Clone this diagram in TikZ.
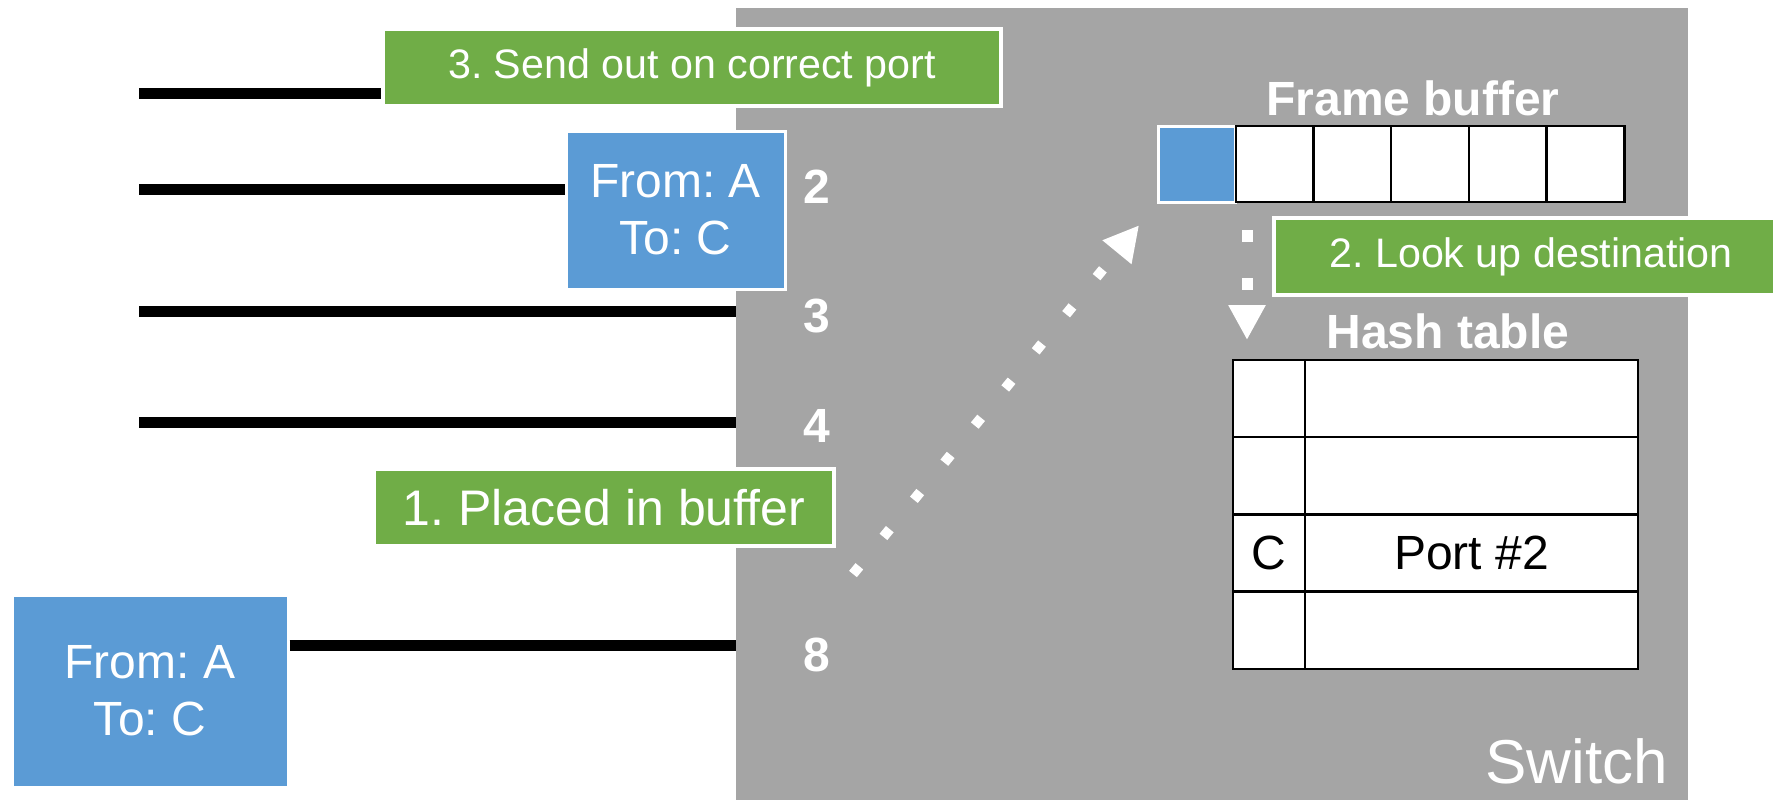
\documentclass[tikz,border=0pt]{standalone}
\usepackage{fontspec}
\setmainfont{Liberation Sans}
\frenchspacing
\usetikzlibrary{positioning,arrows.meta}

\definecolor{switchgray}{HTML}{A5A5A5}
\definecolor{stepgreen}{HTML}{70AD47}
\definecolor{frameblue}{HTML}{5B9BD5}

\begin{document}
\begin{tikzpicture}
		[x=0.5pt,y=-0.5pt,
		wire/.style={line width=5.5pt},
		frame/.style={rectangle,draw=white,fill=frameblue,line width=1.5pt,text=white,align=center,inner sep=0pt,font=\fontsize{24}{28.5}\selectfont},
		note/.style={rectangle,draw=white,fill=stepgreen,line width=2pt,text=white,inner sep=0pt,minimum height=38.5pt},
		cell/.style={rectangle,draw=black,fill=white,line width=1.2pt,inner sep=0pt,outer sep=0pt,minimum width=38.85pt,minimum height=38pt},
		slot/.style={rectangle,draw=black,fill=white,line width=1.2pt,inner sep=0pt,outer sep=0pt,minimum height=38.6pt,font=\fontsize{24}{28}\selectfont},
		portno/.style={anchor=base,text=white,font=\bfseries\fontsize{24}{28}\selectfont},
		title/.style={anchor=base,text=white,font=\bfseries\fontsize{24}{28}\selectfont},
		hop/.style={draw=white,line width=5pt,dash pattern=on 5pt off 19pt,-{Triangle[length=17.5pt,width=17.5pt]}}]
		\useasboundingbox (0,0) rectangle (1773,800);

		\node [rectangle,fill=switchgray,inner sep=0pt,outer sep=0pt,minimum width=476pt,minimum height=396pt] (switch) at (1212,404) {};
		\node [anchor=base east,text=white,font=\fontsize{31}{36}\selectfont] (swname) at (1675,783) {Switch};

		\node [portno] (p2) at (817,203) {2};
		\node [portno] (p3) at (817,332) {3};
		\node [portno] (p4) at (817,442) {4};
		\node [portno] (p8) at (817,671) {8};

		\node [note,minimum width=309pt,font=\fontsize{20.6}{24}\selectfont] (send) at (692,67.5) {3. Send out on correct port};
		\node [note,minimum width=230pt,font=\fontsize{25}{30}\selectfont] (placed) at (604,507.5) {1. Placed in buffer};
		\node [note,minimum width=257pt,font=\fontsize{20.6}{24}\selectfont] (lookup) at (1531,256.5) {2. Look up destination};

		\node [frame,minimum width=109.5pt,minimum height=79pt] (frame2) at (675.5,210) {From: A\\To: C};
		\node [frame,minimum width=138pt,minimum height=96pt] (frame8) at (150,691) {From: A\\To: C};

		% port wires
		\coordinate (w1) at (139,93.5);
		\coordinate (w2) at (139,189);
		\coordinate (w3) at (139,311);
		\coordinate (w4) at (139,422);
		\coordinate (w8) at (732,645);
		\draw [wire] (w1) -- (w1 -| send.west);
		\draw [wire] (w2) -- (w2 -| frame2.west);
		\draw [wire] (w3) -- (w3 -| switch.west);
		\draw [wire] (w4) -- (w4 -| switch.west);
		\draw [wire] (frame8.east |- w8) -- (w8 -| switch.west);

		% frame buffer
		\node [title] (buftitle) at (1413,115) {Frame buffer};
		\node [cell,fill=frameblue,draw=white,line width=1.5pt] (buf1) at (1197,164) {};
		\node [cell] (buf2) [right=0pt of buf1] {};
		\node [cell] (buf3) [right=0pt of buf2] {};
		\node [cell] (buf4) [right=0pt of buf3] {};
		\node [cell] (buf5) [right=0pt of buf4] {};
		\node [cell] (buf6) [right=0pt of buf5] {};

		% hash table
		\node [title] (httitle) at (1448,348) {Hash table};
		\node [slot,minimum width=36pt] (key1) at (1269,398.6) {};
		\node [slot,minimum width=166.5pt] (val1) [right=0pt of key1] {};
		\node [slot,minimum width=36pt] (key2) [below=0pt of key1] {};
		\node [slot,minimum width=166.5pt] (val2) [right=0pt of key2] {};
		\node [slot,minimum width=36pt] (key3) [below=0pt of key2] {C};
		\node [slot,minimum width=166.5pt] (val3) [right=0pt of key3] {Port \#2};
		\node [slot,minimum width=36pt] (key4) [below=0pt of key3] {};
		\node [slot,minimum width=166.5pt] (val4) [right=0pt of key4] {};

		\coordinate (in8) at (853,574);
		\coordinate (look) at (1247,230);
		\draw [hop,shorten >=15pt] (in8) -- (buf1.south west);
		\draw [hop,line width=5.5pt,dash pattern=on 6pt off 18pt,shorten >=10pt] (look) -- (look |- key1.north);

	\end{tikzpicture}
\end{document}
